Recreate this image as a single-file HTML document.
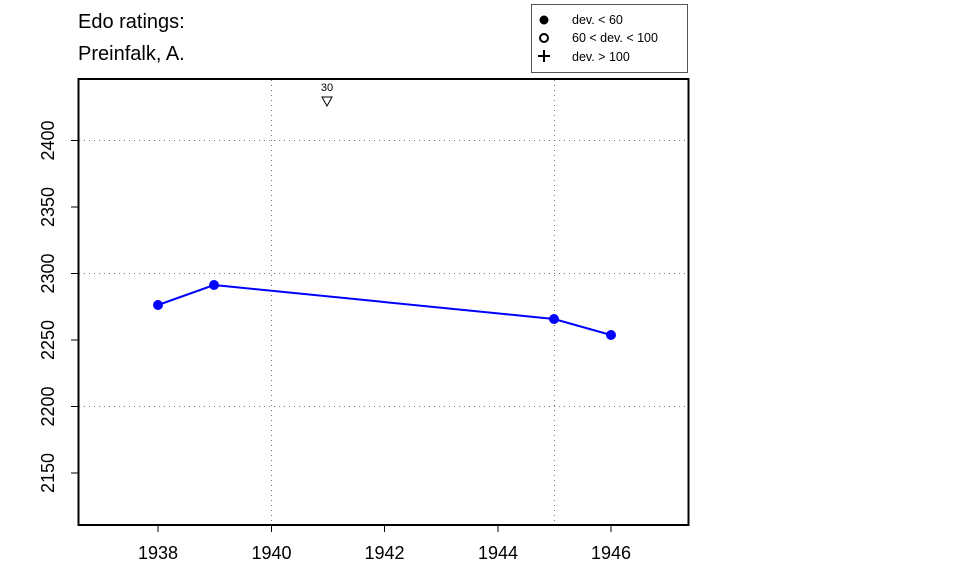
<!DOCTYPE html>
<html><head><meta charset="utf-8"><style>body{margin:0;background:#fff}svg{display:block}</style></head>
<body>
<svg width="960" height="576" xmlns="http://www.w3.org/2000/svg" font-family="Liberation Sans, Arial, sans-serif">
<rect width="960" height="576" fill="#fff"/>
<text x="78" y="28" font-size="20">Edo ratings:</text>
<text x="78" y="60" font-size="20">Preinfalk, A.</text>
<rect x="531.5" y="4.5" width="156" height="68" fill="#fff" stroke="#555" stroke-width="1"/>
<circle cx="544" cy="20" r="4.5" fill="#000"/>
<text x="572" y="24" font-size="12.5">dev. &lt; 60</text>
<circle cx="544" cy="38" r="4" fill="none" stroke="#000" stroke-width="2"/>
<text x="572" y="42" font-size="12.5">60 &lt; dev. &lt; 100</text>
<path d="M538 56H550M544 50V62" stroke="#000" stroke-width="2"/>
<text x="572" y="61" font-size="12.5">dev. &gt; 100</text>
<g stroke="#777" stroke-width="1" stroke-dasharray="1,4">
<line x1="271.5" y1="80" x2="271.5" y2="524"/>
<line x1="554.5" y1="80" x2="554.5" y2="524"/>
<line x1="79" y1="140.5" x2="688" y2="140.5"/>
<line x1="79" y1="273.5" x2="688" y2="273.5"/>
<line x1="79" y1="406.5" x2="688" y2="406.5"/>
</g>
<rect x="78.5" y="79" width="610" height="446" fill="none" stroke="#000" stroke-width="2"/>
<g stroke="#000" stroke-width="1">
<line x1="71" y1="140.5" x2="78" y2="140.5"/><line x1="71" y1="207" x2="78" y2="207"/><line x1="71" y1="273.5" x2="78" y2="273.5"/><line x1="71" y1="340" x2="78" y2="340"/><line x1="71" y1="406.5" x2="78" y2="406.5"/><line x1="71" y1="473" x2="78" y2="473"/>
<line x1="158" y1="526" x2="158" y2="532"/><line x1="271.5" y1="526" x2="271.5" y2="532"/><line x1="384.5" y1="526" x2="384.5" y2="532"/><line x1="498" y1="526" x2="498" y2="532"/><line x1="611" y1="526" x2="611" y2="532"/>
</g>
<g font-size="18" text-anchor="middle">
<text x="158" y="559">1938</text><text x="271.5" y="559">1940</text><text x="384.5" y="559">1942</text><text x="498" y="559">1944</text><text x="611" y="559">1946</text>
<text transform="translate(54,140.5) rotate(-90)">2400</text>
<text transform="translate(54,207) rotate(-90)">2350</text>
<text transform="translate(54,273.5) rotate(-90)">2300</text>
<text transform="translate(54,340) rotate(-90)">2250</text>
<text transform="translate(54,406.5) rotate(-90)">2200</text>
<text transform="translate(54,473) rotate(-90)">2150</text>
</g>
<text x="327" y="91" font-size="11" text-anchor="middle">30</text>
<path d="M322 97H332L327 106Z" fill="none" stroke="#000" stroke-width="1"/>
<polyline points="158,305 214,285 554,319 611,335" fill="none" stroke="#0000ff" stroke-width="2"/>
<g fill="#0000ff"><circle cx="158" cy="305" r="5"/><circle cx="214" cy="285" r="5"/><circle cx="554" cy="319" r="5"/><circle cx="611" cy="335" r="5"/></g>
</svg>
</body></html>
